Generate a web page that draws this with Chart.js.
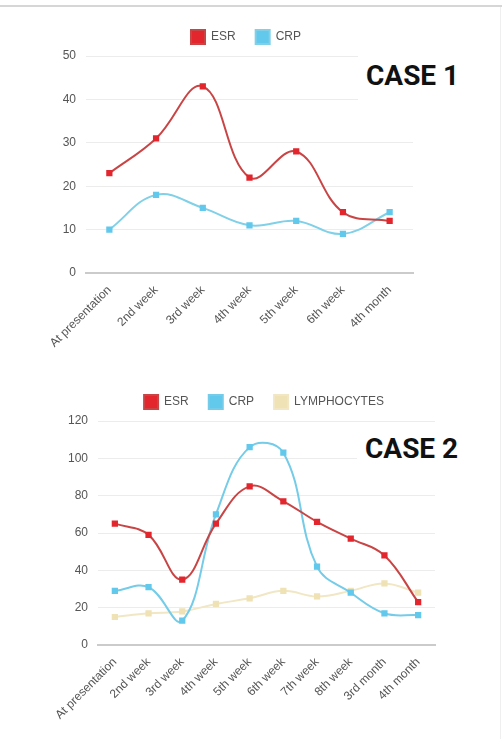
<!DOCTYPE html>
<html>
<head>
<meta charset="utf-8">
<script src="https://cdn.jsdelivr.net/npm/chart.js@4.4.1/dist/chart.umd.min.js"></script>
<style>
  html, body { margin: 0; padding: 0; background: #fff; }
  #page { position: relative; width: 502px; height: 739px; overflow: hidden; }
  #topline { position: absolute; left: 0; top: 5px; width: 502px; height: 2px; background: #d6d6d6; }
  #sideline { position: absolute; left: 500px; top: 7px; width: 1px; height: 732px; background: #efefef; }
  .box { position: absolute; }
  .tag { position: absolute; background: #fff; font-family: Roboto, "Liberation Sans", sans-serif;
         font-weight: 700; font-size: 28px; color: #111; line-height: 1; }
</style>
</head>
<body>
<div id="page">
  <div id="topline"></div>
  <div id="sideline"></div>
  <div class="box" style="left:0;top:0;width:492px;height:360px"><canvas id="case1"></canvas></div>
  <div class="box" style="left:36px;top:370px;width:456px;height:362px"><canvas id="case2"></canvas></div>
  <div class="tag" style="left:358px;top:50px;width:112px;height:58px;padding:12px 0 0 8px;box-sizing:border-box">CASE 1</div>
  <div class="tag" style="left:357px;top:428px;width:112px;height:42px;padding:7px 0 0 8px;box-sizing:border-box">CASE 2</div>
</div>
<script>
// case 1
var labels1 = ["At presentation", "2nd week", "3rd week", "4th week", "5th week", "6th week", "4th month"];
var esr1 = [23, 31, 43, 22, 28, 14, 12];
var crp1 = [10, 18, 15, 11, 12, 9, 14];

// case 2
var labels2 = ["At presentation", "2nd week", "3rd week", "4th week", "5th week", "6th week", "7th week", "8th week", "3rd month", "4th month"];
var esr2 = [65, 59, 35, 65, 85, 77, 66, 57, 48, 23];
var crp2 = [29, 31, 13, 70, 106, 103, 42, 28, 17, 16];
var lymph2 = [15, 17, 18, 22, 25, 29, 26, 29, 33, 28];

var tickFont = { family: "'Liberation Sans', Arial, sans-serif", size: 12 };

function series(label, data, line, point) {
  return {
    label: label,
    data: data,
    borderColor: line,
    backgroundColor: point,
    pointBackgroundColor: point,
    pointBorderColor: point,
    pointStyle: 'rect',
    pointRadius: 3,
    borderWidth: 2,
    tension: 0.4,
    fill: false
  };
}

function legendHeight(h) {
  return {
    id: 'legendHeight',
    beforeInit: function(chart) {
      var fit = chart.legend.fit;
      chart.legend.fit = function() {
        fit.bind(chart.legend)();
        this.height = h;
      };
    }
  };
}

function makeChart(id, labels, datasets, opts) {
  return new Chart(document.getElementById(id), {
    type: 'line',
    data: { labels: labels, datasets: datasets },
    options: {
      responsive: true,
      maintainAspectRatio: false,
      animation: false,
      layout: { padding: { top: opts.padTop, left: 0, right: 0, bottom: 0 } },
      plugins: {
        legend: {
          position: 'top',
          labels: {
            boxWidth: 14, boxHeight: 14, padding: 20,
            color: '#555', font: { family: tickFont.family, size: 12 }
          }
        },
        tooltip: { enabled: false }
      },
      scales: {
        x: {
          offset: true,
          grid: { display: false },
          border: { color: '#cbcbcb', width: 2 },
          ticks: { color: '#555', font: tickFont, minRotation: 45, maxRotation: 45, autoSkip: false, padding: 2 },
          afterFit: function(s) { s.height = opts.xHeight; }
        },
        y: {
          min: 0, max: opts.max,
          grid: { color: '#ececec', drawTicks: false },
          border: { display: false },
          ticks: { stepSize: opts.step, color: '#555', font: tickFont, padding: 10 },
          afterFit: function(s) { s.width = opts.left; }
        },
        yr: {
          position: 'right',
          grid: { display: false },
          border: { display: false },
          ticks: { display: false },
          afterFit: function(s) { s.width = opts.right; }
        }
      }
    },
    plugins: [legendHeight(opts.legendH)]
  });
}

makeChart('case1', labels1, [
  series('ESR', esr1, '#c94545', '#e3262e'),
  series('CRP', crp1, '#80d0e8', '#62c8ec')
], { padTop: 10, legendH: 46, xHeight: 87, left: 86, right: 79, max: 50, step: 10 });

makeChart('case2', labels2, [
  series('ESR', esr2, '#c94545', '#e3262e'),
  series('CRP', crp2, '#74cce8', '#62c8ec'),
  series('LYMPHOCYTES', lymph2, '#f1e7c4', '#efe2b4')
], { padTop: 5, legendH: 46, xHeight: 87, left: 62, right: 57, max: 120, step: 20 });
</script>
</body>
</html>
